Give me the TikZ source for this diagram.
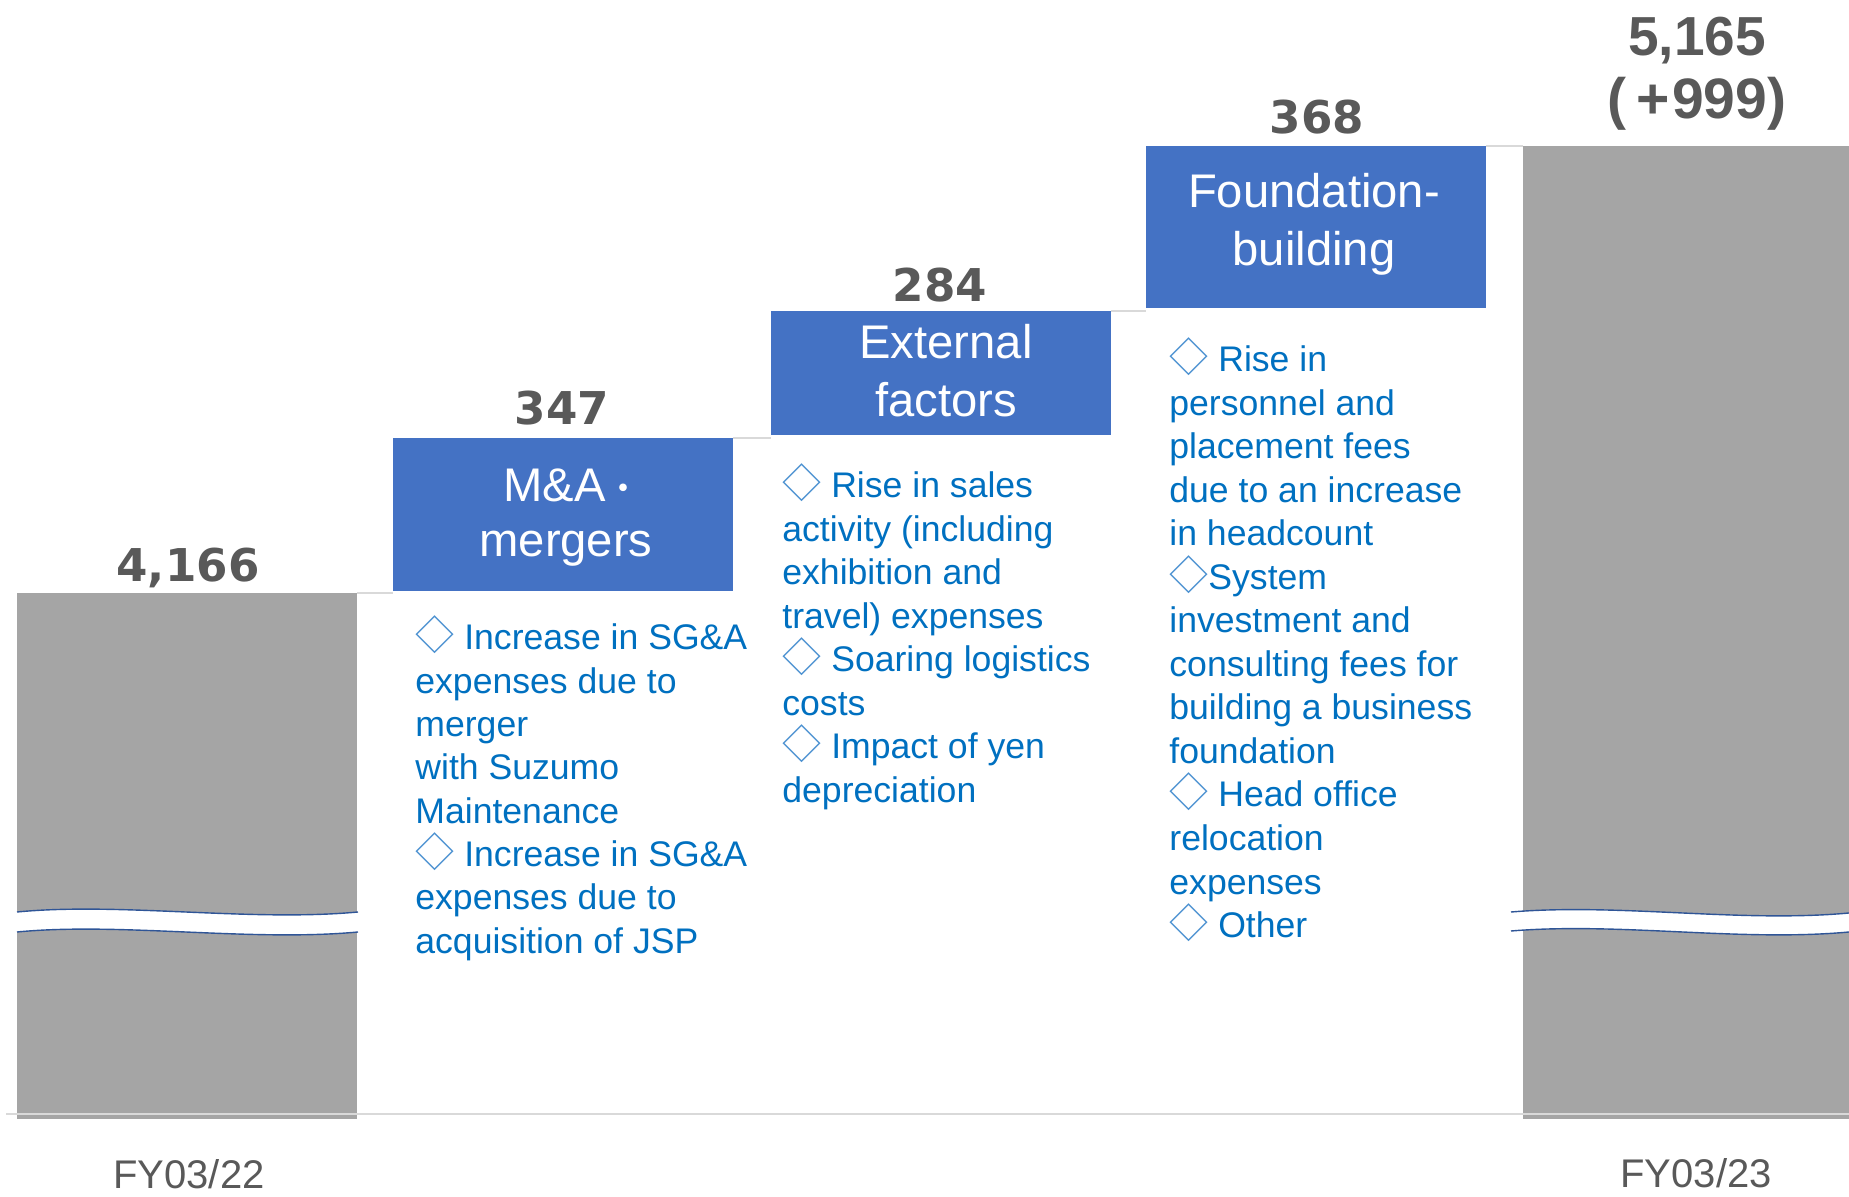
\documentclass[tikz,border=0pt]{standalone}
\usepackage{fontspec}
\setmainfont{Liberation Sans}
\newfontfamily\numfont{DejaVu Sans}
\newfontfamily\jpfont{Noto Sans CJK JP}
\definecolor{barGray}{HTML}{A5A5A5}
\definecolor{boxBlue}{HTML}{4472C4}
\definecolor{txtBlue}{HTML}{0070C0}
\definecolor{diaBlue}{HTML}{4A90D0}
\definecolor{numGray}{HTML}{595959}
\definecolor{lineGray}{HTML}{D9D9D9}
\definecolor{brkBlue}{HTML}{2F5597}
\newcommand\mydiam{{\color{diaBlue}\jpfont\fontsize{19.5}{19.5}\selectfont ◇}}
\tikzset{
  barbox/.style={fill=barGray, draw=none, inner sep=0pt, outer sep=0pt, anchor=north west, minimum width=170pt},
  bluebox/.style={fill=boxBlue, draw=none, inner sep=0pt, outer sep=0pt, anchor=north west, minimum width=170pt},
  boxtxt/.style={text=white, inner sep=0pt, anchor=base, font=\fontsize{23.6}{28}\selectfont},
  desc/.style={text=txtBlue, inner sep=0pt, anchor=base west, font=\fontsize{17.8}{21.75}\selectfont},
  numlab/.style={text=numGray, inner sep=0pt, anchor=base, font=\numfont\bfseries\fontsize{22.6}{27}\selectfont},
  totlab/.style={text=numGray, inner sep=0pt, anchor=base, font=\bfseries\fontsize{27.5}{32}\selectfont},
  axlab/.style={text=numGray, inner sep=0pt, anchor=base, font=\fontsize{20}{24}\selectfont},
  conn/.style={draw=lineGray, line width=0.8pt},
  brk/.style={draw=brkBlue, line width=0.7pt},
}
\begin{document}
\begin{tikzpicture}[x=0.5pt,y=-0.5pt]
\useasboundingbox (0,0) rectangle (1849,1197);

% bars and boxes
\node[barbox, minimum height=263pt] (bar1) at (17,593) {};
\node[barbox, minimum width=163pt, minimum height=486.5pt] (bar2) at (1523,146) {};
\node[bluebox, minimum height=76.5pt] (box1) at (393,438) {};
\node[bluebox, minimum height=62pt] (box2) at (771,311) {};
\node[bluebox, minimum height=81pt] (box3) at (1146,146) {};

% connectors
\draw[conn] (bar1.north east) -- (bar1.north east -| box1.west);
\draw[conn] (box1.north east) -- (box1.north east -| box2.west);
\draw[conn] (box2.north east) -- (box2.north east -| box3.west);
\draw[conn] (box3.north east) -- (box3.north east -| bar2.west);

% axis
\coordinate (axL) at (6,1114);
\coordinate (axR) at (1849,1114);
\draw[draw=lineGray, line width=1pt] (axL) -- (axR);

% break bands
\fill[white] (17,912) .. controls (120,902) and (250,922) .. (358,912) -- (358,932) .. controls (250,942) and (120,922) .. (17,932) -- cycle;
\draw[brk] (17,912) .. controls (120,902) and (250,922) .. (358,912);
\draw[brk] (17,932) .. controls (120,922) and (250,942) .. (358,932);
\fill[white] (1511,912) .. controls (1620,903) and (1740,923) .. (1849,913) -- (1849,932) .. controls (1740,942) and (1620,922) .. (1511,931) -- cycle;
\draw[brk] (1511,912) .. controls (1620,903) and (1740,923) .. (1849,913);
\draw[brk] (1511,931) .. controls (1620,922) and (1740,942) .. (1849,932);

% box labels
\node[boxtxt, anchor=base west] (t1a) at (503,502) {M\&A\smash{\jpfont\fontsize{18}{18}\selectfont ・}};
\node[boxtxt] (t1b) at (566,557) {mergers};
\node[boxtxt] (t2a) at (946,359) {External};
\node[boxtxt] (t2b) at (946,417) {factors};
\node[boxtxt] (t3a) at (1314,208) {Foundation-};
\node[boxtxt] (t3b) at (1314,266) {building};

% value labels
\node[numlab] (n1) at (188,582) {4,166};
\node[numlab] (n2) at (562,425) {347};
\node[numlab] (n3) at (940,302) {284};
\node[numlab] (n4) at (1317,134) {368};
\node[totlab] (n5) at (1697,56) {5,165};
\node[totlab, font=\bfseries\fontsize{28.5}{32}\selectfont] (n6) at (1697,119) {(\kern5pt+\kern1pt999)};

% axis labels
\node[axlab] (fy1) at (189,1188) {FY03/22};
\node[axlab] (fy2) at (1696,1187) {FY03/23};

% descriptions
\foreach \t [count=\i from 0] in {{\mydiam\ Increase in SG\&A},{expenses due to},{merger},{with Suzumo},{Maintenance},{\mydiam\ Increase in SG\&A},{expenses due to},{acquisition of JSP}}
  \node[desc] (da\i) at (415,{650+43.3*\i}) {\t};
\foreach \t [count=\i from 0] in {{\mydiam\ Rise in sales},{activity (including},{exhibition and},{travel) expenses},{\mydiam\ Soaring logistics},{costs},{\mydiam\ Impact of yen},{depreciation}}
  \node[desc] (db\i) at (782,{498+43.5*\i}) {\t};
\foreach \t [count=\i from 0] in {{\mydiam\ Rise in},{personnel and},{placement fees},{due to an increase},{in headcount},{\mydiam System},{investment and},{consulting fees for},{building a business},{foundation},{\mydiam\ Head office},{relocation},{expenses},{\mydiam\ Other}}
  \node[desc] (dc\i) at (1169,{372+43.5*\i}) {\t};
\end{tikzpicture}
\end{document}
